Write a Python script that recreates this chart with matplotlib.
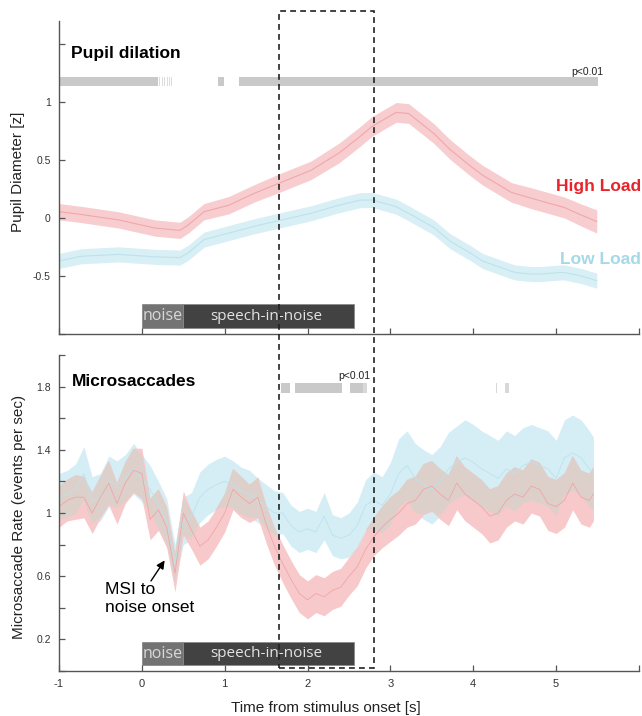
import matplotlib
matplotlib.use("Agg")
import matplotlib.pyplot as plt
import numpy as np
from matplotlib.patches import Rectangle
from matplotlib.transforms import blended_transform_factory

plt.rcParams['font.family'] = ['Liberation Sans', 'DejaVu Sans']
plt.rcParams['axes.unicode_minus'] = False

# ---------------- data: pupil dilation ----------------
pupil_t = [-1.0, -0.73, -0.28, 0.16, 0.46, 0.56, 0.75, 1.05, 1.35, 1.64, 2.04, 2.38,
           2.63, 2.78, 3.07, 3.22, 3.52, 3.72, 3.96, 4.11, 4.46, 4.51, 4.70, 4.80,
           5.05, 5.10, 5.30, 5.49]
pupil_high = [0.054, 0.03, -0.017, -0.087, -0.107, -0.06, 0.054, 0.11, 0.21, 0.295, 0.41, 0.56,
              0.70, 0.79, 0.91, 0.90, 0.73, 0.59, 0.45, 0.37, 0.22, 0.21, 0.17, 0.15,
              0.10, 0.09, 0.026, -0.03]
pupil_high_se = [0.07, 0.07, 0.07, 0.07, 0.07, 0.07, 0.07, 0.075, 0.075, 0.08, 0.08, 0.085,
                 0.085, 0.085, 0.085, 0.085, 0.085, 0.085, 0.085, 0.085, 0.085, 0.085, 0.09, 0.09,
                 0.09, 0.09, 0.095, 0.1]
pupil_low = [-0.37, -0.33, -0.314, -0.335, -0.342, -0.30, -0.187, -0.13, -0.073, -0.025, 0.04, 0.11,
             0.153, 0.155, 0.097, 0.04, -0.08, -0.20, -0.30, -0.37, -0.46, -0.47, -0.484, -0.484,
             -0.47, -0.47, -0.50, -0.54]
pupil_low_se = [0.065] * 28

pupil_sig = [(-1.0, 0.19), (0.21, 0.22), (0.24, 0.25), (0.27, 0.28), (0.30, 0.31),
             (0.33, 0.34), (0.35, 0.36), (0.92, 0.99), (1.17, 5.50)]

# ---------------- data: microsaccades ----------------
ms_t = [-1.0, -0.9, -0.8, -0.7, -0.6, -0.5, -0.4, -0.3, -0.2, -0.1, 0.0, 0.1, 0.2, 0.3, 0.4,
        0.5, 0.6, 0.7, 0.8, 0.9, 1.0, 1.1, 1.2, 1.3, 1.4, 1.5, 1.6, 1.7, 1.8, 1.9, 2.0,
        2.1, 2.2, 2.3, 2.4, 2.5, 2.6, 2.7, 2.8, 2.9, 3.0, 3.1, 3.2, 3.3, 3.4, 3.5, 3.6,
        3.7, 3.8, 3.9, 4.0, 4.1, 4.2, 4.3, 4.4, 4.5, 4.6, 4.7, 4.8, 4.9, 5.0, 5.1, 5.2,
        5.3, 5.4, 5.45]
ms_high = [1.04, 1.08, 1.10, 1.10, 1.00, 1.10, 1.19, 1.06, 1.19, 1.27, 1.25, 0.96, 1.02, 0.91, 0.62,
           1.00, 0.89, 0.79, 0.83, 0.91, 1.00, 1.15, 1.10, 1.06, 1.10, 0.93, 0.79, 0.68, 0.58, 0.49, 0.45,
           0.49, 0.47, 0.51, 0.53, 0.60, 0.66, 0.77, 0.85, 0.91, 0.96, 1.00, 1.06, 1.08, 1.15, 1.17, 1.12,
           1.08, 1.19, 1.12, 1.08, 1.04, 0.98, 1.00, 1.08, 1.12, 1.10, 1.17, 1.15, 1.06, 1.04, 1.08, 1.19,
           1.10, 1.08, 1.12]
ms_high_se = [0.13, 0.13, 0.14, 0.13, 0.13, 0.13, 0.14, 0.13, 0.13, 0.14, 0.16, 0.13, 0.13, 0.13, 0.12,
              0.14, 0.12, 0.12, 0.12, 0.12, 0.12, 0.13, 0.13, 0.12, 0.13, 0.12, 0.12, 0.12, 0.12, 0.12, 0.12,
              0.12, 0.12, 0.12, 0.12, 0.12, 0.12, 0.12, 0.12, 0.13, 0.14, 0.14, 0.15, 0.15, 0.16, 0.16, 0.16,
              0.16, 0.17, 0.17, 0.17, 0.17, 0.17, 0.17, 0.17, 0.17, 0.17, 0.17, 0.17, 0.17, 0.17, 0.17, 0.17,
              0.17, 0.17, 0.17]
ms_low = [1.10, 1.12, 1.15, 1.25, 1.08, 1.10, 1.20, 1.18, 1.22, 1.28, 1.22, 1.15, 1.05, 0.95, 0.68,
          0.95, 0.98, 1.10, 1.15, 1.18, 1.20, 1.18, 1.14, 1.12, 1.08, 1.04, 1.00, 1.00, 0.92, 0.88, 0.90,
          0.88, 0.98, 0.86, 0.84, 0.86, 0.92, 1.05, 1.08, 1.05, 1.12, 1.25, 1.30, 1.22, 1.18, 1.15, 1.20,
          1.28, 1.32, 1.35, 1.32, 1.28, 1.25, 1.22, 1.28, 1.25, 1.30, 1.32, 1.30, 1.28, 1.22, 1.35, 1.38,
          1.35, 1.28, 1.25]
ms_low_se = [0.15, 0.15, 0.16, 0.17, 0.15, 0.15, 0.16, 0.15, 0.15, 0.16, 0.15, 0.15, 0.15, 0.14, 0.12,
             0.15, 0.15, 0.16, 0.16, 0.16, 0.16, 0.15, 0.15, 0.15, 0.14, 0.14, 0.14, 0.13, 0.13, 0.13, 0.13,
             0.13, 0.15, 0.13, 0.13, 0.14, 0.15, 0.16, 0.18, 0.18, 0.20, 0.22, 0.22, 0.22, 0.22, 0.22, 0.22,
             0.23, 0.23, 0.24, 0.24, 0.24, 0.24, 0.24, 0.24, 0.24, 0.24, 0.24, 0.24, 0.24, 0.24, 0.24, 0.24,
             0.24, 0.24, 0.23]

ms_sig = [(1.68, 1.79), (1.85, 2.41), (2.51, 2.67), (2.67, 2.72), (4.27, 4.29), (4.38, 4.43)]

xticks = [-1, 0, 1, 2, 3, 4, 5, 6]
xticklabels = ['-1', '0', '1', '2', '3', '4', '5', '']
pupil_yticks = [-1, -0.5, 0, 0.5, 1, 1.5]
pupil_yticklabels = ['', '-0.5', '0', '0.5', '1', '']
ms_yticks = [0, 0.2, 0.4, 0.6, 0.8, 1.0, 1.2, 1.4, 1.6, 1.8, 2.0]
ms_yticklabels = ['', '0.2', '', '0.6', '', '1', '', '1.4', '', '1.8', '']

# ---------------- styles ----------------
RED_FILL = '#f8c9cb'
RED_LINE = '#f0a5a9'
BLUE_FILL = '#d5eef5'
BLUE_LINE = '#bce2ec'
OVERLAP = '#ddd0ca'
SIG = '#c9c9c9'
SPINE = '#555555'

W, H = 642, 716
fig = plt.figure(figsize=(W / 100, H / 100), dpi=100)
ax1 = fig.add_axes([59 / W, 1 - 334 / H, 580 / W, (334 - 20.7) / H])
ax2 = fig.add_axes([59 / W, 1 - 671 / H, 580 / W, (671 - 355) / H])

for ax in (ax1, ax2):
    for s in ('top', 'right'):
        ax.spines[s].set_visible(False)
    for s in ('left', 'bottom'):
        ax.spines[s].set_color(SPINE)
        ax.spines[s].set_linewidth(1.0)
    ax.tick_params(direction='in', length=4.5, width=0.9, color=SPINE,
                   labelsize=7.5, labelcolor='#333333', pad=6)
    ax.set_xlim(-1, 6)
    ax.set_xticks(xticks)

# ---- top panel ----
t = np.array(pupil_t)
hi, hise = np.array(pupil_high), np.array(pupil_high_se)
lo, lose = np.array(pupil_low), np.array(pupil_low_se)
ax1.fill_between(t, lo - lose, lo + lose, color='#d8eff5', lw=0)
ax1.plot(t, lo, color='#bde2ec', lw=0.8)
ax1.fill_between(t, hi - hise, hi + hise, color='#f8cdcf', lw=0)
ax1.plot(t, hi, color='#f0a7ab', lw=0.8)
ax1.set_ylim(-1, 1.7)
ax1.set_yticks(pupil_yticks)
ax1.set_yticklabels(pupil_yticklabels)
ax1.set_xticklabels([''] * len(xticks))
for i, (a, b) in enumerate(pupil_sig):
    c = SIG if (b - a) > 0.02 else '#dcdcdc'
    ax1.add_patch(Rectangle((a, 1.14), b - a, 0.075, color=c, lw=0))
ax1.text(5.57, 1.255, 'p<0.01', fontsize=7.5, ha='right', va='center', color='#222222')
ax1.text(-0.855, 1.42, 'Pupil dilation', fontsize=12.5, fontweight='bold', va='center')

# stimulus boxes
def stim(ax, y0, h):
    ax.add_patch(Rectangle((0, y0), 0.5, h, facecolor='#737373', edgecolor='#8a8a8a', lw=0.6))
    ax.add_patch(Rectangle((0.5, y0), 2.06, h, facecolor='#424242', edgecolor='#8a8a8a', lw=0.6))
    ax.text(0.25, y0 + h / 2, 'noise', color='#d8d8d8', fontsize=11.5, ha='center', va='center',
            family=['Open Sans', 'DejaVu Sans'])
    ax.text(1.5, y0 + h / 2, 'speech-in-noise', color='#e2e2e2', fontsize=11, ha='center', va='center',
            family=['Open Sans', 'DejaVu Sans'])

stim(ax1, -0.95, 0.205)

# ---- bottom panel ----
mt = np.array(ms_t)
mh, mhse = np.array(ms_high), np.array(ms_high_se)
ml, mlse = np.array(ms_low), np.array(ms_low_se)
h_lo, h_hi = mh - mhse, mh + mhse
l_lo, l_hi = ml - mlse, ml + mlse
ax2.fill_between(mt, l_lo, l_hi, color=BLUE_FILL, lw=0)
ax2.fill_between(mt, h_lo, h_hi, color=RED_FILL, lw=0)
ov_lo = np.maximum(h_lo, l_lo)
ov_hi = np.minimum(h_hi, l_hi)
ax2.fill_between(mt, ov_lo, ov_hi, where=ov_hi > ov_lo, interpolate=True, color=OVERLAP, lw=0)
ax2.plot(mt, ml, color=BLUE_LINE, lw=0.6)
ax2.plot(mt, mh, color=RED_LINE, lw=0.6)
ax2.set_ylim(0, 2)
ax2.set_yticks(ms_yticks)
ax2.set_yticklabels(ms_yticklabels)
ax2.set_xticklabels(xticklabels, fontsize=8)
for a, b in ms_sig:
    c = SIG if (b - a) > 0.06 else '#d8d8d8'
    ax2.add_patch(Rectangle((a, 1.76), b - a, 0.06, color=c, lw=0))
ax2.text(2.76, 1.865, 'p<0.01', fontsize=7.5, ha='right', va='center', color='#222222')
ax2.text(-0.84, 1.835, 'Microsaccades', fontsize=12.5, fontweight='bold', va='center')
stim(ax2, 0.035, 0.148)

ax2.annotate('', xy=(0.275, 0.70), xytext=(0.11, 0.57),
             arrowprops=dict(arrowstyle='-|>', color='black', lw=1.0, mutation_scale=12,
                             shrinkA=0, shrinkB=0))
ax2.text(-0.45, 0.459, 'MSI to\nnoise onset', fontsize=12.5, ha='left', va='center',
         linespacing=1.2)

# labels
fig.text(18.5 / W, 1 - 172 / H, 'Pupil Diameter [z]', rotation=90, fontsize=11,
         ha='center', va='center', color='#222222')
fig.text(19 / W, 1 - 516.5 / H, 'Microsaccade Rate (events per sec)', rotation=90, fontsize=11,
         ha='center', va='center', color='#222222')
fig.text(326 / W, 1 - 708 / H, 'Time from stimulus onset [s]', fontsize=11,
         ha='center', va='center', color='#222222')
fig.text(0.998, 1 - 187 / H, 'High Load', fontsize=12.5, fontweight='bold', color='#e8232b',
         ha='right', va='center')
fig.text(0.998, 1 - 260 / H, 'Low Load', fontsize=12.5, fontweight='bold', color='#a6d9e7',
         ha='right', va='center')

# dashed window spanning both panels
tr = blended_transform_factory(ax2.transData, fig.transFigure)
fig.add_artist(Rectangle((1.65, 1 - 668 / H), 1.15, (668 - 11) / H, transform=tr,
                         fill=False, edgecolor='#222222', lw=1.2, linestyle=(0, (3.5, 2.5)),
                         clip_on=False))

fig.savefig('out.png', dpi=100)
